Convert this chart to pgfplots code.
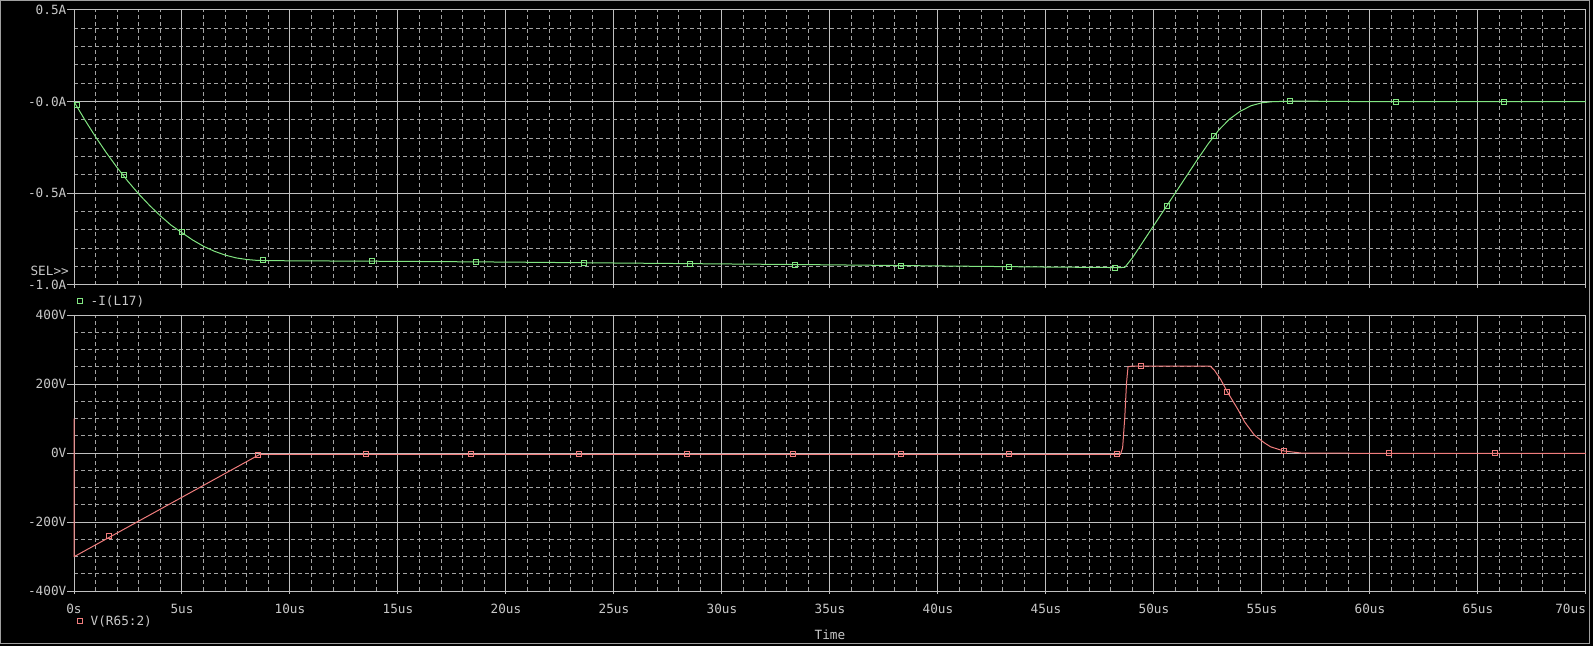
\documentclass[border=0pt]{standalone}
\usepackage{pgfplots}
\pgfplotsset{compat=1.18}
\usepackage{fontspec}
\setmonofont{DejaVu Sans Mono}

\definecolor{fg}{RGB}{200,200,200}
\definecolor{gridc}{RGB}{192,192,192}
\definecolor{trgreen}{RGB}{130,230,130}
\definecolor{trred}{RGB}{240,125,125}

\pgfplotsset{
  psp/.style={
    scale only axis, width=1512pt, xmin=0, xmax=70,
    xtick={0,5,...,70}, minor x tick num=4,
    grid=both, clip=false,
    major grid style={draw=gridc, line width=1pt},
    minor grid style={draw=gridc!85!black, line width=1pt, dash pattern=on 4pt off 3pt},
    axis line style={draw=gridc, line width=1pt},
    tick align=outside, tick pos=left,
    major tick length=7pt, minor tick length=0pt,
    tick style={draw=gridc, line width=1pt},
    xtick style={/pgfplots/major tick length=3pt},
    ticklabel style={font=\fontsize{12.7}{13}\selectfont\ttfamily, text=fg},
    yticklabel style={inner sep=0pt, xshift=-0.5pt},
    xticklabel style={inner sep=0pt, yshift=-6pt},
    legend style={draw=none, fill=none, inner sep=0pt, anchor=west,
      font=\fontsize{12.7}{13}\selectfont\ttfamily, text=fg, nodes={inner sep=0pt}},
    legend image code/.code={\draw[#1] plot coordinates {(0pt,0pt)};},
  }
}

\begin{document}
\begin{tikzpicture}
\fill[black] (0,0) rectangle (1593pt,646pt);
\useasboundingbox (0,0) rectangle (1593pt,646pt);
\draw[gray!75, line width=1pt] (0.5pt,3pt) rectangle (1589.5pt,645.5pt);

% current through L17
\begin{axis}[psp, at={(74pt,361pt)}, anchor=south west, height=275pt,
  ymin=-1, ymax=0.5, ytick={-1,-0.5,0,0.5}, minor y tick num=4,
  yticklabels={-1.0A,-0.5A,-0.0A,0.5A}, xticklabels={},
  legend style={at={(axis description cs:0.0023,-0.0582)}}]
\addplot[trgreen, line width=1pt, forget plot] coordinates {
  (0,0) (0.5,-0.099) (1,-0.192) (1.5,-0.279) (2,-0.360) (2.5,-0.435)
  (3,-0.504) (3.5,-0.566) (4,-0.623) (4.5,-0.674) (5,-0.715) (5.5,-0.755)
  (6,-0.789) (6.5,-0.816) (7,-0.837) (7.5,-0.852) (8,-0.861) (8.5,-0.866)
  (9,-0.867) (10,-0.868) (15,-0.871) (20,-0.875) (25,-0.880) (30,-0.885)
  (35,-0.890) (40,-0.896) (45,-0.902) (48.4,-0.905) (48.65,-0.904)
  (49,-0.852) (50,-0.674) (51,-0.496) (52,-0.318) (52.5,-0.232) (53,-0.155)
  (53.5,-0.095) (54,-0.052) (54.5,-0.022) (55,-0.006) (55.5,0.0)
  (56.5,0.003) (58,0.002) (60,0) (70,0)
};
\addplot[trgreen, only marks, mark=square, mark size=2.5pt, mark options={line width=1pt}] coordinates {
  (0.15,-0.02) (2.3,-0.40) (4.98,-0.71) (8.77,-0.866) (13.8,-0.870)
  (18.6,-0.874) (23.6,-0.879) (28.5,-0.884) (33.4,-0.889) (38.3,-0.894)
  (43.3,-0.900) (48.2,-0.905) (50.6,-0.567) (52.8,-0.185) (56.3,0.002)
  (61.2,0) (66.2,0)
};
\addlegendentry{\hspace{8pt}-I(L17)}
\end{axis}

\node[anchor=east, inner sep=0pt, text=fg, font=\fontsize{12.7}{13}\selectfont\ttfamily] at (69pt,375pt) {SEL>>};

% voltage at R65:2
\begin{axis}[psp, at={(74pt,55pt)}, anchor=south west, height=276pt,
  ymin=-400, ymax=400, ytick={-400,-200,0,200,400}, minor y tick num=3,
  yticklabels={-400V,-200V,0V,200V,400V},
  xticklabels={0s,5us,10us,15us,20us,25us,30us,35us,40us,45us,50us,55us,60us,65us,70us\hphantom{70us}},
  xlabel={Time},
  xlabel style={at={(axis description cs:0.5,0)}, anchor=center, yshift=-44pt, inner sep=0pt,
    font=\fontsize{12.7}{13}\selectfont\ttfamily, text=fg},
  legend style={at={(axis description cs:0.0023,-0.1087)}}]
\addplot[trred, line width=1pt, forget plot] coordinates {
  (0,100) (0,-300) (0.05,-299) (8.6,-4) (48.45,-4) (48.55,15) (48.65,104) (48.73,203)
  (48.8,250) (49,252) (52.6,252) (52.8,240) (53.1,212) (53.4,177) (53.9,125)
  (54.2,90) (54.65,52) (55.1,30) (55.4,18) (56,6) (56.8,0) (60,-1) (70,-1)
};
\addplot[trred, only marks, mark=square, mark size=2.5pt, mark options={line width=1pt}] coordinates {
  (1.63,-241) (8.5,-5) (13.5,-4) (18.4,-4) (23.4,-4) (28.4,-4) (33.3,-4)
  (38.3,-4) (43.3,-4) (48.3,-4) (49.4,252) (53.4,177) (56.0,6) (60.9,-1)
  (65.8,-1)
};
\addlegendentry{\hspace{8pt}V(R65:2)}
\end{axis}
\end{tikzpicture}
\end{document}
